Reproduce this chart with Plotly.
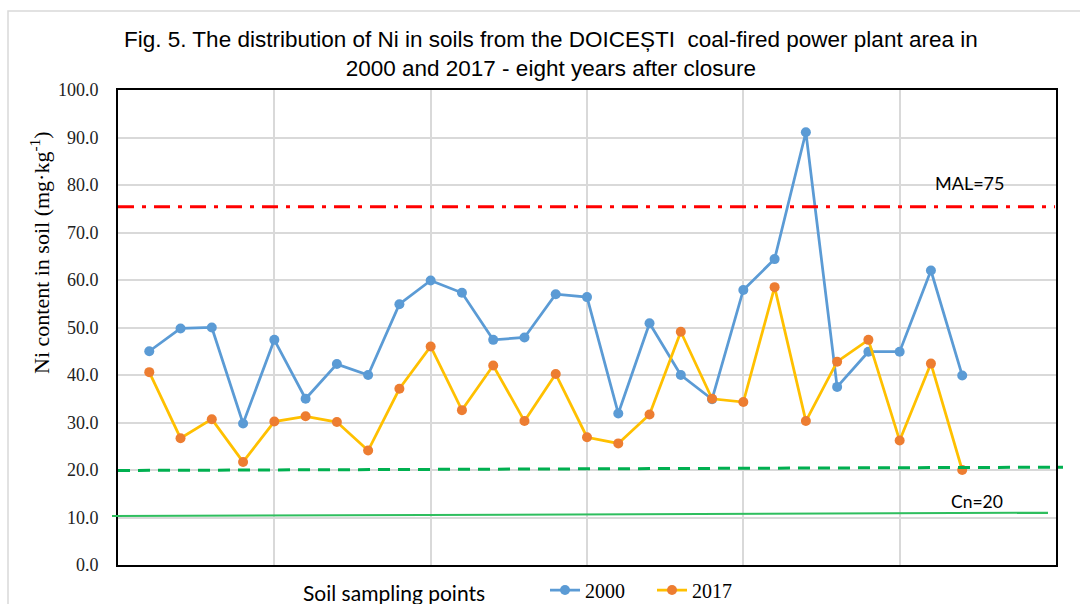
import plotly.graph_objects as go

# ---- data ----
points = list(range(1, 28))
ni_2000 = [45.0, 49.8, 50.0, 29.8, 47.4, 35.0, 42.3, 40.0, 54.9, 59.9,
           57.3, 47.4, 47.9, 57.0, 56.4, 31.9, 50.9, 40.0, 34.9, 57.9,
           64.4, 91.1, 37.5, 44.9, 44.9, 62.0, 39.9]
ni_2017 = [40.6, 26.7, 30.7, 21.7, 30.2, 31.3, 30.1, 24.1, 37.1, 46.0,
           32.6, 42.0, 30.3, 40.2, 26.9, 25.6, 31.7, 49.1, 35.0, 34.3,
           58.5, 30.3, 42.8, 47.4, 26.2, 42.4, 20.0]
series_names = ["2000", "2017"]
mal_level = [75.4, 75.4]      # drawn MAL line (left, right)
cn_dashed = [19.9, 20.6]      # dashed Cn line (left, right)
cn_solid = [10.3, 11.0]       # solid green line (left, right)
y_ticks = [0, 10, 20, 30, 40, 50, 60, 70, 80, 90, 100]

W, H = 1080, 604
ML, MR, MT, MB = 118, 24, 90, 39
PW, PH = W - ML - MR, H - MT - MB


def px_x(px):
    return (px - ML) / PW


def px_y(py):
    return (H - MB - py) / PH


fig = go.Figure()
fig.add_trace(go.Scatter(
    x=points, y=ni_2000, name=series_names[0], mode="lines+markers",
    line=dict(color="#5B9BD5", width=2.75),
    marker=dict(color="#5B9BD5", size=10)))
fig.add_trace(go.Scatter(
    x=points, y=ni_2017, name=series_names[1], mode="lines+markers",
    line=dict(color="#FFC000", width=2.75),
    marker=dict(color="#ED7D31", size=10)))

shapes = [
    # outer chart frame
    dict(type="rect", xref="paper", yref="paper",
         x0=px_x(8), x1=px_x(1100), y0=px_y(11), y1=px_y(640),
         line=dict(color="#D9D9D9", width=1.5), layer="below"),
    dict(type="line", xref="paper", yref="y", x0=px_x(118), x1=px_x(1055),
         y0=mal_level[0], y1=mal_level[1],
         line=dict(color="#FF0000", width=3, dash="16px,8px,4px,8px")),
    dict(type="line", xref="paper", yref="y", x0=px_x(118), x1=px_x(1063),
         y0=cn_dashed[0], y1=cn_dashed[1],
         line=dict(color="#00B050", width=3, dash="12px,8px")),
    dict(type="line", xref="paper", yref="y", x0=px_x(112), x1=px_x(1048),
         y0=cn_solid[0], y1=cn_solid[1],
         line=dict(color="#2EBE5E", width=2)),
]

annotations = [
    dict(text="Fig. 5. The distribution of Ni in soils from the DOICEȘTI  coal-fired power plant area in<br>2000 and 2017 - eight years after closure",
         xref="paper", yref="paper", x=px_x(551), y=px_y(54.5),
         xanchor="center", yanchor="middle", showarrow=False,
         font=dict(family="Liberation Sans", size=22.5, color="black")),
    dict(text="Ni content in soil (mg·kg<sup>-1</sup>)", textangle=-90,
         xref="paper", yref="paper", x=px_x(40), y=px_y(253),
         xanchor="center", yanchor="middle", showarrow=False,
         font=dict(family="Liberation Serif", size=22, color="black")),
    dict(text="MAL=75", xref="paper", yref="paper", x=px_x(969), y=px_y(183),
         xanchor="center", yanchor="middle", showarrow=False,
         font=dict(family="Lato", size=18, color="black")),
    dict(text="Cn=20", xref="paper", yref="paper", x=px_x(977), y=px_y(501),
         xanchor="center", yanchor="middle", showarrow=False,
         font=dict(family="Lato", size=17.5, color="black")),
    dict(text="Soil sampling points", xref="paper", yref="paper",
         x=px_x(394), y=px_y(592), xanchor="center", yanchor="middle",
         showarrow=False, font=dict(family="Lato", size=21, color="black")),
]

fig.update_layout(
    width=W, height=H,
    margin=dict(l=ML, r=MR, t=MT, b=MB, pad=0, autoexpand=False),
    paper_bgcolor="white", plot_bgcolor="white",
    xaxis=dict(range=[0, 30], dtick=5, tick0=0, showticklabels=False,
               showgrid=True, gridcolor="#D9D9D9", gridwidth=1.5,
               showline=True, linecolor="black", linewidth=2, mirror=True,
               zeroline=False, ticks=""),
    yaxis=dict(range=[0, 100], tickvals=y_ticks, tickformat=".1f",
               showgrid=True, gridcolor="#D9D9D9", gridwidth=1.5,
               showline=True, linecolor="black", linewidth=2, mirror=True,
               zeroline=False, ticks="", ticklabelstandoff=14,
               tickfont=dict(family="Liberation Serif", size=18, color="#222")),
    legend=dict(orientation="h", x=px_x(545), y=px_y(590),
                xanchor="left", yanchor="middle", bgcolor="rgba(0,0,0,0)",
                entrywidth=62, entrywidthmode="pixels",
                font=dict(family="Liberation Serif", size=20, color="black")),
    shapes=shapes, annotations=annotations,
)

fig.write_html("out.html", config={"displayModeBar": False},
               post_script="document.body.style.margin='0';document.body.style.overflow='hidden';")
